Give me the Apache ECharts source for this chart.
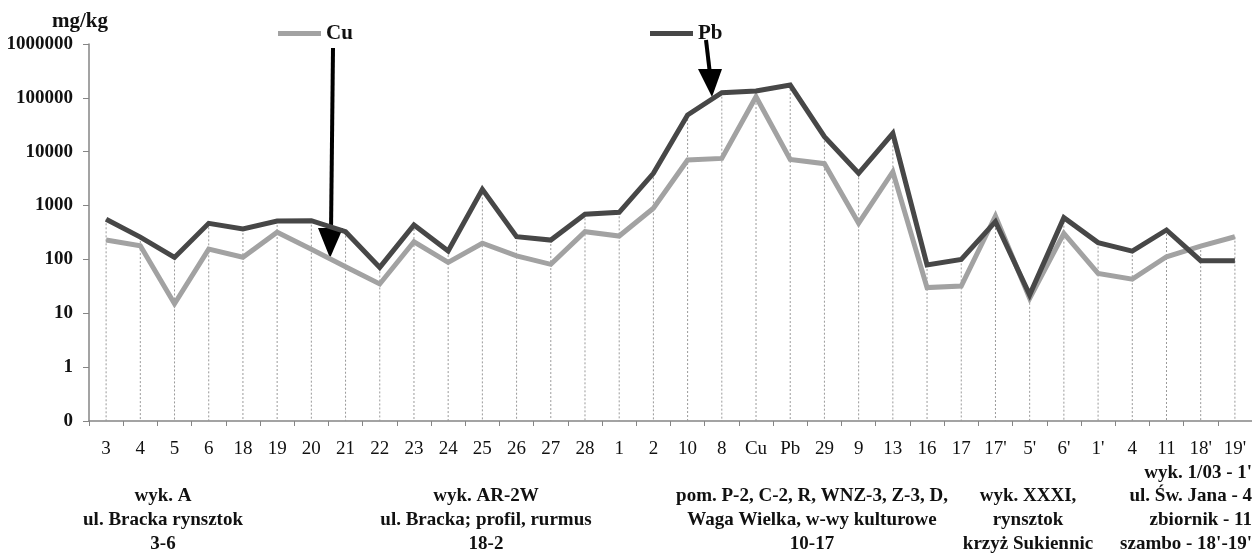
<!DOCTYPE html>
<html>
<head>
<meta charset="utf-8">
<script src="https://cdn.jsdelivr.net/npm/echarts@6/dist/echarts.min.js"></script>
<style>
    html, body { margin: 0; padding: 0; background: #fff; }
    #chart { width: 1252px; height: 553px; }
</style>
</head>
<body>
<div id="chart"></div>
<script>
// próbki (kolejność jak na osi X)
var categories = ["3", "4", "5", "6", "18", "19", "20", "21", "22", "23", "24", "25", "26", "27", "28",
    "1", "2", "10", "8", "Cu", "Pb", "29", "9", "13", "16", "17", "17'", "5'", "6'", "1'", "4", "11", "18'", "19'"];

// mg/kg
var cuValues = [230, 180, 15, 155, 110, 320, 155, 73, 35, 213, 88, 200, 116, 81, 327,
    272, 890, 7000, 7500, 105000, 7200, 6000, 470, 4250, 30, 32, 640, 19, 305, 55, 43, 112, 177, 264];
var pbValues = [556, 260, 109, 468, 367, 517, 524, 327, 71, 436, 143, 2000, 264, 229, 688,
    749, 3970, 48000, 125000, 134000, 173000, 19000, 3970, 21900, 79, 100, 502, 22, 596, 205, 143, 352, 95, 95];

var yMin = 0.1, yMax = 1000000;

// opisy grup pod osią
var groupLabels = [
    { text: "wyk. A\nul. Bracka rynsztok\n3-6", x: 163, align: "center" },
    { text: "wyk. AR-2W\nul. Bracka; profil, rurmus\n18-2", x: 486, align: "center" },
    { text: "pom. P-2, C-2, R, WNZ-3, Z-3, D,\nWaga Wielka, w-wy kulturowe\n10-17", x: 812, align: "center" },
    { text: "wyk. XXXI,\nrynsztok\nkrzyż Sukiennic", x: 1028, align: "center" },
    { text: "wyk. 1/03 - 1'\nul. Św. Jana - 4\nzbiornik - 11\nszambo - 18'-19'", x: 1252, align: "right" }
];

var FONT = "'Liberation Serif', 'Times New Roman', serif";

var dropData = categories.map(function (c, i) {
    return [i, Math.max(cuValues[i], pbValues[i])];
});

var graphics = [{
    type: "text", left: 52, top: 11,
    style: { text: "mg/kg", font: "bold 21px " + FONT, fill: "#111" }
}, {
    // strzałka Cu
    type: "line", shape: { x1: 333, y1: 48, x2: 331, y2: 232 },
    style: { stroke: "#000", lineWidth: 4 }
}, {
    type: "polygon", shape: { points: [[318, 228], [343, 228], [330, 258]] },
    style: { fill: "#000" }
}, {
    // strzałka Pb
    type: "line", shape: { x1: 706, y1: 40, x2: 710, y2: 74 },
    style: { stroke: "#000", lineWidth: 4 }
}, {
    type: "polygon", shape: { points: [[698, 69], [722, 69], [712, 97]] },
    style: { fill: "#000" }
}];

groupLabels.forEach(function (g) {
    var lines = g.text.split("\n").length;
    graphics.push({
        type: "text",
        x: g.x,
        y: 556 - lines * 23.8,
        style: {
            text: g.text, font: "bold 19px " + FONT, fill: "#111",
            align: g.align, verticalAlign: "top", lineHeight: 23.8
        }
    });
});

var chart = echarts.init(document.getElementById("chart"));
var option = {
    backgroundColor: "#fff",
    animation: false,
    grid: { left: 89, right: -6, top: 44, bottom: 132 },
    legend: [{
        data: ["Cu"], left: 273, top: 18, icon: "rect", itemWidth: 43, itemHeight: 5, itemGap: 7,
        textStyle: { fontFamily: FONT, fontWeight: "bold", fontSize: 21, color: "#111" }
    }, {
        data: ["Pb"], left: 645, top: 18, icon: "rect", itemWidth: 43, itemHeight: 5, itemGap: 7,
        textStyle: { fontFamily: FONT, fontWeight: "bold", fontSize: 21, color: "#111" }
    }],
    xAxis: {
        type: "category",
        data: categories,
        boundaryGap: true,
        axisLine: { lineStyle: { color: "#858585", width: 1.5 } },
        axisTick: { show: true, length: 5, lineStyle: { color: "#858585" } },
        axisLabel: { interval: 0, margin: 19, fontFamily: FONT, fontSize: 19, color: "#111" },
        splitLine: { show: false }
    },
    yAxis: {
        type: "log",
        logBase: 10,
        min: yMin,
        max: yMax,
        axisLine: { show: true, lineStyle: { color: "#858585", width: 1.5 } },
        axisTick: { show: true, length: 6, lineStyle: { color: "#858585" } },
        axisLabel: {
            margin: 16, fontFamily: FONT, fontWeight: "bold", fontSize: 19, color: "#111",
            formatter: function (v) { return v < 1 ? "0" : String(Math.round(v)); }
        },
        splitLine: { show: false }
    },
    series: [{
        // linie opuszczone (dotted)
        type: "custom",
        silent: true,
        z: 1,
        data: dropData,
        renderItem: function (params, api) {
            var top = api.coord([api.value(0), api.value(1)]);
            var bottom = api.coord([api.value(0), yMin]);
            return {
                type: "line",
                shape: { x1: top[0], y1: top[1], x2: bottom[0], y2: bottom[1] },
                style: { stroke: "#9a9a9a", lineWidth: 1, lineDash: [2, 2] }
            };
        }
    }, {
        name: "Cu",
        type: "line",
        data: cuValues,
        z: 2,
        symbol: "none",
        color: "#a2a2a2",
        lineStyle: { color: "#a2a2a2", width: 5, join: "miter" }
    }, {
        name: "Pb",
        type: "line",
        data: pbValues,
        z: 3,
        symbol: "none",
        color: "#474747",
        lineStyle: { color: "#474747", width: 5, join: "miter" }
    }],
    graphic: graphics
};
chart.setOption(option);
</script>
</body>
</html>
